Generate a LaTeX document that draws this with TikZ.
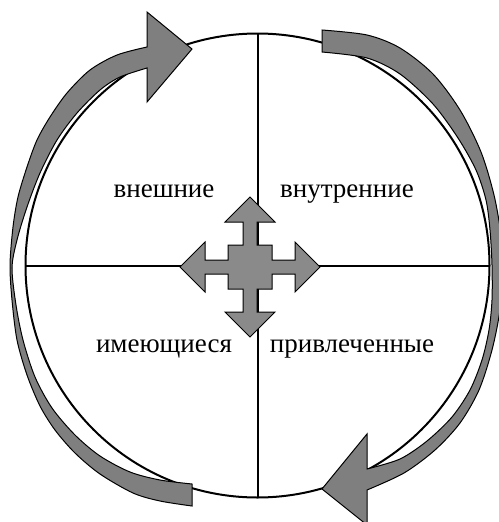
\documentclass[tikz,border=0pt]{standalone}
\usepackage{fontspec}
\setmainfont{Liberation Serif}
\usetikzlibrary{positioning}
\definecolor{grisflecha}{RGB}{127,127,127}
\definecolor{griscruz}{RGB}{138,138,138}

\begin{document}
\begin{tikzpicture}[x=1pt, y=-1pt,
  anillo/.style={draw, circle, line width=2pt, minimum size=464pt,
                 inner sep=0pt, outer sep=0pt},
  eje/.style={line width=2pt},
  flecha/.style={draw, fill=grisflecha, line width=1pt},
  cruz/.style={draw, fill=griscruz, line width=1pt},
  etiqueta/.style={font=\fontsize{27}{32}\selectfont, anchor=base}]
  \useasboundingbox (0,0) rectangle (498,522);
  \node[anillo] (circulo) at (257.5,265.5) {};
  \draw[eje] (circulo.north) -- (circulo.south);
  \draw[eje] (circulo.west) -- (circulo.east);
  % flecha curva izquierda (sube)
  \draw[flecha]
    plot[smooth] coordinates {(192,506) (160,501) (133,493) (100,474)
      (75,453) (55,430) (40,406) (27,375) (17,340) (12,300) (10,265)
      (13,227) (18,197) (27,167) (37,140) (50,117) (67,93) (90,70)
      (117,55) (147,47)}
    -- (147,12) -- (192,49) -- (147,102)
    -- plot[smooth] coordinates {(147,68) (120,77) (100,90) (77,113)
      (57,140) (40,173) (27,207) (17,240) (12,268) (16,305) (23,340)
      (35,377) (52,408) (75,435) (100,456) (130,472) (160,480) (192,484)}
    -- cycle;
  % flecha curva derecha (baja)
  \draw[flecha]
    plot[smooth] coordinates {(322,30) (367,35) (400,48) (433,74)
      (460,110) (481,152) (494,195) (501,235) (503,270) (500,310)
      (492,350) (479,390) (460,423) (435,450) (404,473) (367,490)}
    -- (367,525) -- (322,489) -- (367,434)
    -- plot[smooth] coordinates {(367,469) (400,459) (427,441) (452,417)
      (470,390) (482,360) (489,330) (492,300) (492,265) (490,230)
      (486,200) (476,170) (458,138) (433,104) (400,74) (367,58) (322,52)}
    -- cycle;
  % cruz central
  \draw[cruz, shift={(250,267)}]
    (0,-70) -- (25,-45) -- (7,-45) -- (7,-22) -- (22,-22) -- (22,-7)
    -- (45,-7) -- (45,-25) -- (70,0) -- (45,25) -- (45,7) -- (22,7)
    -- (22,22) -- (7,22) -- (7,45) -- (25,45) -- (0,70) -- (-25,45)
    -- (-7,45) -- (-7,22) -- (-22,22) -- (-22,7) -- (-45,7) -- (-45,25)
    -- (-70,0) -- (-45,-25) -- (-45,-7) -- (-22,-7) -- (-22,-22)
    -- (-7,-22) -- (-7,-45) -- (-25,-45) -- cycle;
  \node[etiqueta] (externos)   at (164,197) {внешние};
  \node[etiqueta] (internos)   at (347,197) {внутренние};
  \node[etiqueta] (existentes) at (164,352) {имеющиеся};
  \node[etiqueta] (atraidos)   at (352,352) {привлеченные};
\end{tikzpicture}
\end{document}
